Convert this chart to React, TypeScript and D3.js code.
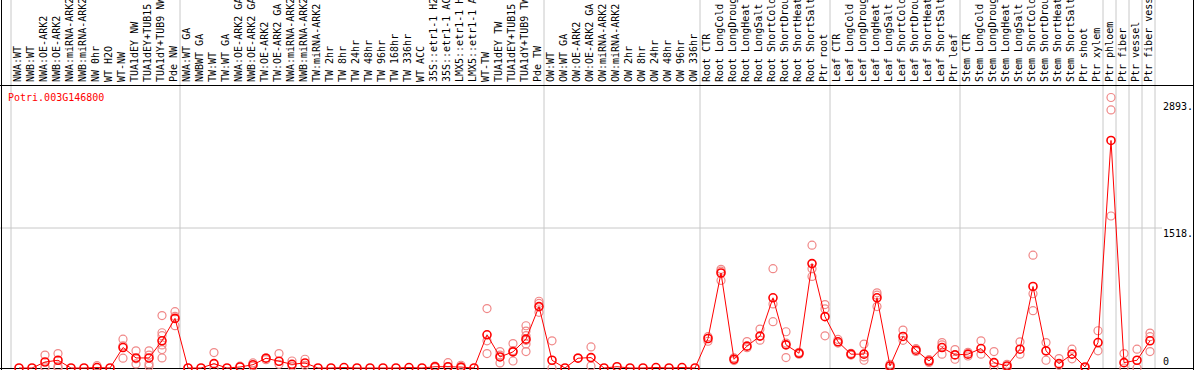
import React from "react";
import * as d3 from "d3";

const categories = [
  "NWA:WT", "NWB:WT", "NWA:OE-ARK2", "NWB:OE-ARK2", "NWA:miRNA-ARK2", "NWB:miRNA-ARK2",
  "NW 0hr", "WT H2O", "WT-NW", "TUA1dEY NW", "TUA1dEY+TUB15", "TUA1dY+TUB9 NW", "Pde NW",
  "NWA:WT GA", "NWBWT GA", "TW:WT", "TW:WT GA", "NWA:OE-ARK2 GA", "NWB:OE-ARK2 GA",
  "TW:OE-ARK2", "TW:OE-ARK2 GA", "NWA:miRNA-ARK2", "NWB:miRNA-ARK2", "TW:miRNA-ARK2",
  "TW 2hr", "TW 8hr", "TW 24hr", "TW 48hr", "TW 96hr", "TW 168hr", "TW 336hr", "WT ACC",
  "35S::etr1-1 H2O", "35S::etr1-1 ACC", "LMX5::etr1-1 H2O", "LMX5::etr1-1 ACC",
  "WT-TW", "TUA1dEY TW", "TUA1dEY+TUB15", "TUA1dY+TUB9 TW", "Pde TW",
  "OW:WT", "OW:WT GA", "OW:OE-ARK2", "OW:OE-ARK2 GA", "OW:miRNA-ARK2", "OW:miRNA-ARK2",
  "OW 2hr", "OW 8hr", "OW 24hr", "OW 48hr", "OW 96hr", "OW 336hr",
  "Root CTR", "Root LongCold", "Root LongDrought", "Root LongHeat", "Root LongSalt",
  "Root ShortCold", "Root ShortDrought", "Root ShortHeat", "Root ShortSalt", "Ptr root",
  "Leaf CTR", "Leaf LongCold", "Leaf LongDrought", "Leaf LongHeat", "Leaf LongSalt",
  "Leaf ShortCold", "Leaf ShortDrought", "Leaf ShortHeat", "Leaf ShortSalt", "Ptr leaf",
  "Stem CTR", "Stem LongCold", "Stem LongDrought", "Stem LongHeat", "Stem LongSalt",
  "Stem ShortCold", "Stem ShortDrought", "Stem ShortHeat", "Stem ShortSalt", "Ptr shoot",
  "Ptr xylem", "Ptr phloem", "Ptr fiber", "Ptr vessel", "Ptr fiber vessel",
];

const meanValues = [
  0, 0, 65, 84, 0, 0, 5, 0, 222, 109, 109, 295, 538,
  0, 0, 47, 0, 11, 36, 106, 73, 40, 55, 0, 0, 5, 0, 0, 0, 0, 5, 0, 14, 14, 10, 0,
  360, 120, 175, 313, 666,
  84, 0, 106, 113, 0, 14, 0, 0, 5, 0, 5, 0,
  320, 1030, 95, 237, 346, 761, 251, 160, 1132, 557,
  284, 150, 150, 761, 22, 342, 193, 76, 222, 142,
  150, 211, 58, 22, 204, 884, 186, 47, 150, 11, 276,
  2467, 58, 84, 295,
];

const replicateValues = [
  [], [], [140, 15, 0], [156, 20, 0], [], [], [25], [], [313, 106, 240], [186, 44, 100],
  [186, 44, 20, 140], [568, 382, 350, 250, 200, 109], [611, 459, 560],
  [0], [], [167, 0], [], [20], [55, 20], [110, 90], [156, 40], [76, 20], [95, 30],
  [], [], [], [], [], [], [], [], [], [20, 5], [58, 10], [30, 0], [],
  [644, 295, 156], [178, 55, 140], [265, 76, 190], [458, 400, 350, 260, 178, 300], [724, 604, 700],
  [295, 0], [], [110], [229, 22], [], [], [], [], [], [], [], [],
  [340, 290], [1070, 950, 1050], [80, 110], [287, 220], [422, 302], [1077, 695, 502],
  [393, 113, 270], [150, 170], [1332, 1077, 993], [688, 641, 349],
  [310, 270], [140, 160], [259, 84, 120], [815, 666, 790], [40, 0], [411, 300],
  [210, 180], [60, 90], [276, 150, 250], [200, 95],
  [170, 130], [295, 150], [178, 11], [40, 0], [284, 150], [1223, 805, 622],
  [276, 84], [102, 30], [204, 100], [0], [404, 186],
  [2933, 2798, 1648], [156, 0], [204, 0], [379, 178, 340],
];

// indices where a gray separator is drawn (left edge of the band)
const groupBreaks = [0, 13, 41, 53, 63, 73, 84, 85, 86, 87, 88];
const axisTicks = [0, 1518, 2893];
const geneName = "Potri.003G146800";

const W = 1194;
const H = 370;
const font = "'DejaVu Sans Mono', monospace";

export default function App() {
  const x = d3.scaleLinear().domain([0, categories.length]).range([11, 11 + 13 * categories.length]);
  const y = d3.scaleLinear().domain([0, 1518]).range([368, 228]);
  const px = (i: number) => x(i) + 8;

  const line = d3
    .line<number>()
    .x((_, i) => px(i))
    .y((d) => y(d));

  return (
    <svg width={W} height={H} style={{ position: "absolute", left: 0, top: 0, background: "#fff" }}>
      {groupBreaks.map((b) => (
        <line key={b} x1={x(b)} x2={x(b)} y1={0} y2={368} stroke="#c8c8c8" strokeWidth={1} />
      ))}
      <line x1={0} x2={1162} y1={y(1518)} y2={y(1518)} stroke="#c8c8c8" strokeWidth={1} />
      <line x1={0} x2={W} y1={85.5} y2={85.5} stroke="#000" strokeWidth={1} />
      <line x1={0} x2={W} y1={368.5} y2={368.5} stroke="#000" strokeWidth={1} />
      <line x1={1.5} x2={1.5} y1={0} y2={H} stroke="#000" strokeWidth={1} />
      <line x1={1193.5} x2={1193.5} y1={0} y2={H} stroke="#000" strokeWidth={1} />

      {categories.map((c, i) => (
        <text
          key={i}
          transform={`translate(${x(i) + 6.5},82) rotate(-90)`}
          dy="0.35em"
          fontFamily={font}
          fontSize={10}
          fill="#000"
        >
          {c}
        </text>
      ))}

      <text x={8} y={101} fontFamily={font} fontSize={10} fill="#ff0000">
        {geneName}
      </text>

      {axisTicks.map((t) => (
        <text
          key={t}
          x={1163}
          y={t === 0 ? 365 : y(t) + 9}
          fontFamily={font}
          fontSize={10}
          fill="#000"
        >
          {t === 0 ? "0" : `${t}.`}
        </text>
      ))}

      <g fill="none" stroke="#f08888" strokeWidth={1.2}>
        {replicateValues.map((reps, i) =>
          reps.map((v, j) => <circle key={`${i}-${j}`} cx={px(i)} cy={y(v)} r={4} />)
        )}
      </g>
      <path d={line(meanValues) || ""} fill="none" stroke="#ff0000" strokeWidth={1} />
      <g fill="none" stroke="#ff0000" strokeWidth={1.6}>
        {meanValues.map((v, i) => (
          <circle key={i} cx={px(i)} cy={y(v)} r={4} />
        ))}
      </g>
    </svg>
  );
}
